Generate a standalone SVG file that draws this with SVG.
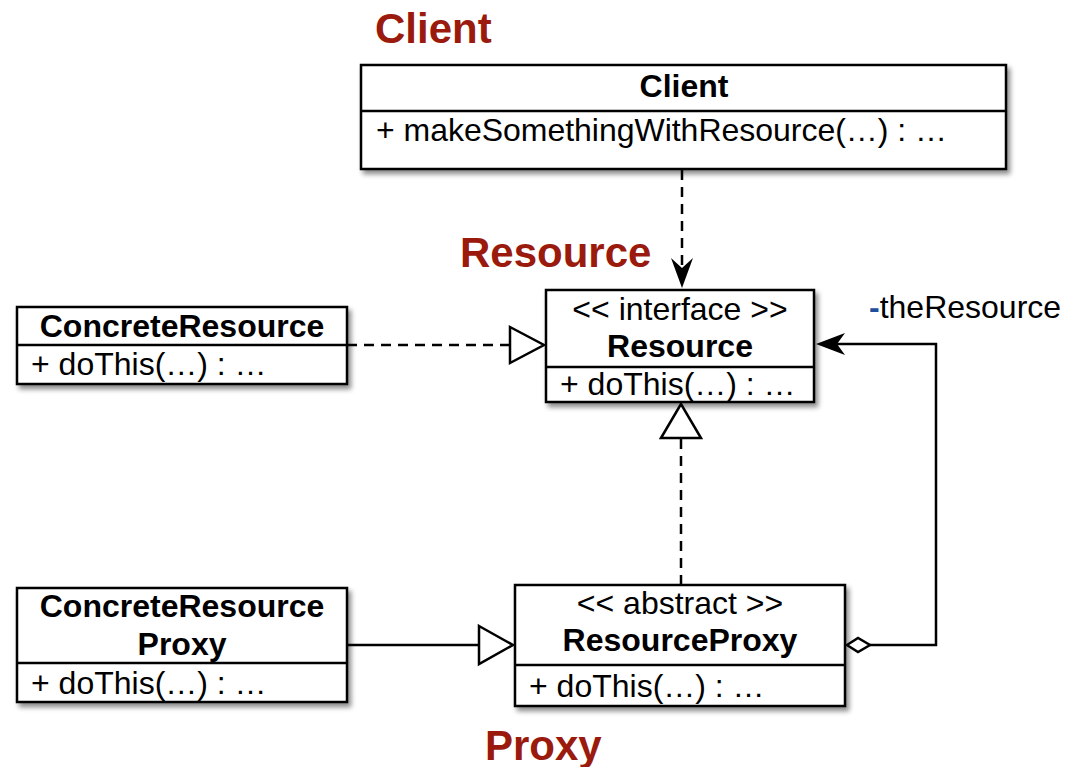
<svg xmlns="http://www.w3.org/2000/svg" width="1071" height="767" viewBox="0 0 1071 767">
  <defs>
    <filter id="shadow" x="-10%" y="-10%" width="130%" height="140%">
      <feDropShadow dx="3" dy="4" stdDeviation="2.5" flood-color="#000" flood-opacity="0.45"/>
    </filter>
    <style>
      .box { fill: #fff; stroke: #000; stroke-width: 2.5; }
      .div { stroke: #000; stroke-width: 2.5; }
      .t { font-family: "Liberation Sans", Arial, Helvetica, sans-serif; font-size: 32px; fill: #000; }
      .b { font-weight: bold; }
      .mid { text-anchor: middle; }
      .title { font-family: "Liberation Sans", Arial, Helvetica, sans-serif; font-size: 42px; font-weight: bold; fill: #9a1a0d; }
      .line { fill: none; stroke: #000; stroke-width: 2.5; }
      .dash { stroke-dasharray: 10 7; }
      .hollow { fill: #fff; stroke: #000; stroke-width: 2.5; stroke-linejoin: miter; }
      .solid { fill: #000; stroke: none; }
    </style>
  </defs>

  <rect width="1071" height="767" fill="#fff"/>

  <!-- package titles -->
  <text class="title" x="375" y="43">Client</text>
  <text class="title" x="460" y="267">Resource</text>
  <text class="title" x="485" y="760">Proxy</text>

  <!-- classes -->
  <g id="client">
    <rect class="box" x="361" y="65" width="645" height="104" filter="url(#shadow)"/>
    <line class="div" x1="361" y1="111" x2="1006" y2="111"/>
    <text class="t b mid" x="684" y="97">Client</text>
    <text class="t" x="376" y="141" textLength="571">+ makeSomethingWithResource(…) : …</text>
  </g>

  <g id="resource">
    <rect class="box" x="546" y="290" width="268" height="112" filter="url(#shadow)"/>
    <line class="div" x1="546" y1="367" x2="814" y2="367"/>
    <text class="t mid" x="680" y="320">&lt;&lt; interface &gt;&gt;</text>
    <text class="t b mid" x="680" y="357">Resource</text>
    <text class="t" x="560" y="395">+ doThis(…) : …</text>
  </g>

  <g id="concrete-resource">
    <rect class="box" x="17" y="307" width="330" height="77" filter="url(#shadow)"/>
    <line class="div" x1="17" y1="345" x2="347" y2="345"/>
    <text class="t b mid" x="182" y="337">ConcreteResource</text>
    <text class="t" x="31" y="375">+ doThis(…) : …</text>
  </g>

  <g id="concrete-resource-proxy">
    <rect class="box" x="17" y="588" width="330" height="114" filter="url(#shadow)"/>
    <line class="div" x1="17" y1="663" x2="347" y2="663"/>
    <text class="t b mid" x="182" y="617">ConcreteResource</text>
    <text class="t b mid" x="182" y="655">Proxy</text>
    <text class="t" x="31" y="694">+ doThis(…) : …</text>
  </g>

  <g id="resource-proxy">
    <rect class="box" x="515" y="585" width="330" height="121" filter="url(#shadow)"/>
    <line class="div" x1="515" y1="665" x2="845" y2="665"/>
    <text class="t mid" x="680" y="614">&lt;&lt; abstract &gt;&gt;</text>
    <text class="t b mid" x="680" y="651">ResourceProxy</text>
    <text class="t" x="529" y="697">+ doThis(…) : …</text>
  </g>

  <!-- relations -->
  <g id="connectors">
    <!-- Client uses Resource -->
    <line class="line dash" x1="682" y1="170" x2="682" y2="266"/>
    <polygon class="solid" points="682,288 671,258 682,268 693,258"/>

    <!-- ConcreteResource realizes Resource -->
    <line class="line dash" x1="347" y1="345" x2="510" y2="345"/>
    <polygon class="hollow" points="510,327 544,345 510,363"/>

    <!-- ResourceProxy realizes Resource -->
    <line class="line dash" x1="681" y1="585" x2="681" y2="439"/>
    <polygon class="hollow" points="661,438 681,404 701,438"/>

    <!-- ConcreteResourceProxy extends ResourceProxy -->
    <line class="line" x1="347" y1="645" x2="479" y2="645"/>
    <polygon class="hollow" points="479,626 513,645 479,664"/>

    <!-- ResourceProxy aggregates Resource -->
    <polyline class="line" points="870,645 936,645 936,344 830,344"/>
    <polygon class="hollow" points="847,645 858,638 870,645 858,652"/>
    <polygon class="solid" points="816,344 845,333 837,344 845,355"/>
    <text class="t" x="869" y="318"><tspan fill="#1f4e9c" font-weight="bold">-</tspan>theResource</text>
  </g>
</svg>
